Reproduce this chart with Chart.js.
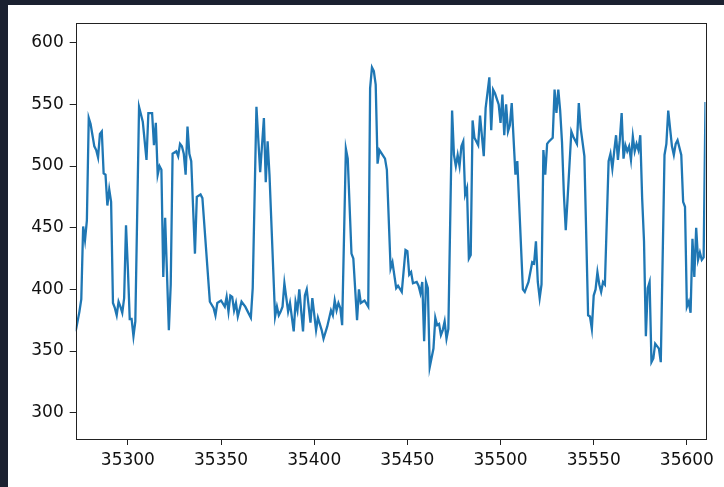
<!DOCTYPE html>
<html>
<head>
<meta charset="utf-8">
<script src="https://cdn.jsdelivr.net/npm/chart.js@4.4.1/dist/chart.umd.min.js"></script>
<style>
  html, body { margin: 0; padding: 0; background: #1b2130; }
  #wrap { position: absolute; left: 8px; top: 5px; width: 716px; height: 482px; background: #fff; }
</style>
</head>
<body>
<div id="wrap"><canvas id="chart" width="716" height="482"></canvas></div>
<script>
// values
const xs = [
  35272,35274,35275,35276,35277,35278,35279,35280,35281,35282,35283,35284,35285,35286,35287,35288,35289,35290,35291,35292,35293,35294,35295,35296,35297,35298,35299,35300,35301,35302,35303,35304,
  35306,35307,35308,35310,35311,35313,35314,35315,35316,35317,35318,35319,35320,35322,35323,35324,35325,35326,35327,35328,35329,35330,35331,35332,35333,35334,35336,35337,35339,35340,
  35344,35346,35347,35348,35349,35350,35352,35353,35354,35355,35356,35357,35358,35359,35361,35363,35364,35366,35367,35369,35371,35373,35374,35375,35376,35379,35380,35381,35382,35383,35384,
  35386,35387,35389,35390,35391,35392,35394,35395,35396,35398,35399,35401,35402,35404,35405,35407,35409,35410,35411,35412,35413,35414,35415,35417,35418,35420,35421,35423,35424,35425,35427,35429,35430,35431,35432,35433,35434,35435,
  35438,35439,35441,35442,35444,35445,35447,35449,35450,35451,35452,35453,35455,35456,35457,35458,35459,35460,35461,35462,35464,35465,35466,35467,35468,35469,35470,35471,35472,
  35474,35475,35476,35477,35478,35479,35480,35481,35482,35483,35484,35485,35486,35488,35489,35491,35492,35494,35495,35496,35497,35499,35500,35501,35502,35503,35504,35505,35506,35508,35509,
  35512,35513,35515,35517,35518,35519,35520,35521,35522,35523,35524,35525,35526,35528,35529,35530,35531,35532,35533,35534,35535,35536,35538,35539,35541,35542,35543,35545,
  35547,35548,35549,35550,35551,35552,35553,35554,35555,35556,35558,35559,35560,35561,35562,35563,35564,35565,35566,35567,35568,35569,35570,35571,35572,35573,35574,35575,35576,35577,35578,35579,35580,35581,35582,35583,
  35585,35586,35588,35589,35590,35592,35593,35594,35595,35597,35598,35599,35600,35601,35602,35603,35604,35605,35606,35607,35608,35609,35610
];
const ys = [
  366,382,392,451,440,456,539,534,525,516,513,507,526,528,494,493,468,481,471,389,385,379,390,386,381,393,452,417,376,376,362,374,
  548,542,536,505,543,543,517,535,493,500,497,410,458,367,404,510,511,512,508,518,516,510,493,532,510,504,429,475,477,474,
  390,385,379,389,390,391,386,394,382,395,394,383,389,378,390,386,383,377,401,548,495,539,487,520,493,378,386,379,382,386,405,
  382,389,366,390,383,400,366,395,400,373,393,367,377,367,360,370,383,379,391,383,389,385,371,514,506,429,425,375,400,389,391,386,563,580,577,566,502,513,
  506,497,417,422,401,403,398,432,431,412,414,405,406,403,397,406,358,406,401,337,352,377,371,372,363,367,374,360,368,
  545,509,500,509,500,516,520,477,482,425,428,537,523,517,541,508,547,572,529,562,559,550,535,558,525,550,528,533,551,493,504,
  400,398,406,422,421,439,406,393,404,513,493,518,520,523,562,543,562,545,519,477,448,474,528,524,518,551,531,508,
  379,378,368,395,400,414,404,398,406,404,504,510,498,512,525,505,521,543,506,517,512,516,505,524,512,518,513,525,474,439,362,401,406,341,344,356,
  352,341,509,518,545,516,509,518,521,509,471,467,386,390,381,441,410,450,424,430,424,426,552
];
const xTicks = [35300, 35350, 35400, 35450, 35500, 35550, 35600];
const yTicks = [300, 350, 400, 450, 500, 550, 600];

const font = { family: 'DejaVu Sans', size: 17 };

const frame = {
  id: 'frame',
  afterDraw(chart) {
    const a = chart.chartArea, c = chart.ctx;
    c.save();
    c.strokeStyle = '#222';
    c.lineWidth = 1;
    c.strokeRect(Math.round(a.left) + 0.5, Math.round(a.top) + 0.5,
      Math.round(a.right - a.left), Math.round(a.bottom - a.top));
    c.restore();
  }
};

const ctx = document.getElementById('chart').getContext('2d');
new Chart(ctx, {
  type: 'line',
  data: {
    datasets: [{
      data: xs.map((x, i) => ({ x: x, y: ys[i] })),
      borderColor: '#1f77b4',
      borderWidth: 2.3,
      pointRadius: 0,
      tension: 0,
      fill: false
    }]
  },
  options: {
    responsive: false,
    animation: false,
    layout: { padding: { top: 18, right: 18.5, left: 0, bottom: 0 } },
    plugins: { legend: { display: false }, tooltip: { enabled: false } },
    scales: {
      x: {
        type: 'linear',
        min: 35272,
        max: 35610,
        afterBuildTicks: s => { s.ticks = xTicks.map(v => ({ value: v })); },
        afterFit: s => { s.height = 48; },
        ticks: { font: font, color: '#111', padding: 5, maxRotation: 0, autoSkip: false, callback: v => String(v) },
        grid: { drawOnChartArea: false, drawTicks: true, tickLength: 6, color: '#222' },
        border: { display: false }
      },
      y: {
        type: 'linear',
        min: 278.7,
        max: 616,
        afterBuildTicks: s => { s.ticks = yTicks.map(v => ({ value: v })); },
        afterFit: s => { s.width = 67.7; },
        ticks: { font: font, color: '#111', padding: 6, autoSkip: false, callback: v => String(v) },
        grid: { drawOnChartArea: false, drawTicks: true, tickLength: 6, color: '#222' },
        border: { display: false }
      }
    }
  },
  plugins: [frame]
});
</script>
</body>
</html>
